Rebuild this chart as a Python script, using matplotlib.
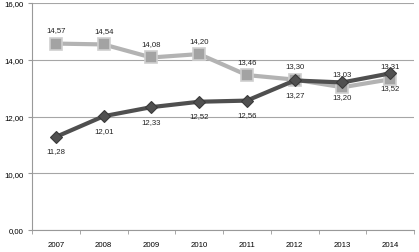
import matplotlib
matplotlib.use("Agg")
import matplotlib.pyplot as plt
import numpy as np

years = ["2007", "2008", "2009", "2010", "2011", "2012", "2013", "2014"]
light_vals = [14.57, 14.54, 14.08, 14.20, 13.46, 13.30, 13.03, 13.31]
dark_vals = [11.28, 12.01, 12.33, 12.52, 12.56, 13.27, 13.20, 13.52]
yticks = [0, 10, 12, 14, 16]
ytick_labels = ["0,00", "10,00", "12,00", "14,00", "16,00"]

plt.rcParams['font.family'] = ['Liberation Sans', 'DejaVu Sans']

def fwd(y):
    y = np.asarray(y, dtype=float)
    return np.where(y < 10, y * 0.2, y - 8)

def inv(y):
    y = np.asarray(y, dtype=float)
    return np.where(y < 2, y / 0.2, y + 8)

fs = 5.6
fig = plt.figure(figsize=(4.19, 2.53), dpi=100)
ax = fig.add_axes([32/419, 1 - 231/253, (414-32)/419, (231-4)/253])
ax.set_yscale('function', functions=(fwd, inv))

x = np.arange(len(years))
ax.plot(x, light_vals, color='#b3b3b3', lw=3.0, marker='s', ms=8.5,
        mfc='#a3a3a3', mec='#cfcfcf', mew=1.2, zorder=3)
ax.plot(x, dark_vals, color='#4f4f4f', lw=3.0, marker='D', ms=6.5,
        mfc='#505050', mec='#3a3a3a', mew=0.8, zorder=4)

for xi, v in zip(x, light_vals):
    ax.annotate(f"{v:.2f}".replace('.', ','), (xi, v), xytext=(0, 7.5),
                textcoords='offset points', ha='center', va='bottom',
                fontsize=fs, color='#222222')
for xi, v in zip(x, dark_vals):
    ax.annotate(f"{v:.2f}".replace('.', ','), (xi, v), xytext=(0, -7.5),
                textcoords='offset points', ha='center', va='top',
                fontsize=fs, color='#222222')

ax.set_ylim(0, 16)
ax.set_xlim(-0.5, len(years) - 0.5)
ax.set_yticks(yticks)
ax.set_yticklabels(ytick_labels, fontsize=fs)
ax.yaxis.set_minor_locator(matplotlib.ticker.NullLocator())
ax.set_xticks(x)
ax.set_xticklabels(years, fontsize=fs)
ax.set_xticks(np.arange(len(years) + 1) - 0.5, minor=True)
ax.tick_params(axis='x', which='major', length=0, pad=8)
ax.tick_params(axis='x', which='minor', length=3, color='#999999', direction='out')
ax.tick_params(axis='y', length=3, color='#999999', pad=3)
ax.grid(axis='y', color='#a6a6a6', lw=0.8)
ax.set_axisbelow(True)
for s in ['top', 'right']:
    ax.spines[s].set_visible(False)
for s in ['left', 'bottom']:
    ax.spines[s].set_color('#999999')
    ax.spines[s].set_linewidth(0.8)

fig.savefig("out.png", dpi=100)
